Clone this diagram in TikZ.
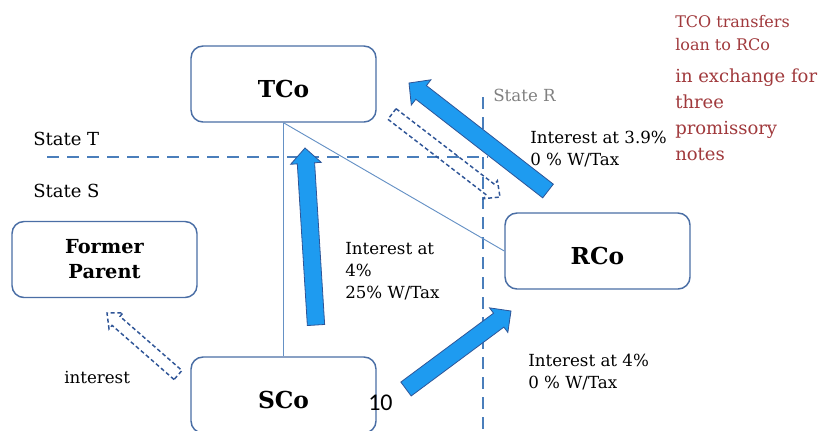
\documentclass[tikz,border=0pt]{standalone}
\usepackage{fontspec}
\setmainfont{DejaVu Serif}
\newfontfamily\pagenumfont{Carlito}
\usetikzlibrary{calc}
\definecolor{boxline}{RGB}{74,110,165}
\definecolor{stateline}{RGB}{74,126,187}
\definecolor{flowfill}{RGB}{30,155,240}
\definecolor{flowline}{RGB}{47,85,151}
\definecolor{notered}{RGB}{160,57,60}
\definecolor{stategray}{RGB}{128,128,128}
% block arrow: [style]{tail}{tip}{half shaft}{half head}{head length}
\newcommand{\blockarrow}[6][]{%
 \coordinate (ba-h) at ($(#3)!#6!(#2)$);
 \draw[#1] ($(#2)!#4!90:(#3)$) -- ($(ba-h)!#4!90:(#3)$) -- ($(ba-h)!#5!90:(#3)$)
  -- (#3) -- ($(ba-h)!#5!-90:(#3)$) -- ($(ba-h)!#4!-90:(#3)$) -- ($(#2)!#4!-90:(#3)$) -- cycle;}
\begin{document}
\begin{tikzpicture}[x=.75pt,y=-.75pt,
                    box/.style={draw=boxline,line width=1.1pt,rounded corners=9pt,fill=white,
                                minimum width=138.75pt,minimum height=57pt,align=center},
                    big/.style={font=\fontsize{17.5}{21}\selectfont\bfseries,text height=20pt,text depth=0pt},
                    statedash/.style={draw=stateline,line width=2.2pt,dash pattern=on 9pt off 6pt},
                    link/.style={draw=stateline!85,line width=.7pt},
                    flow/.style={fill=flowfill,draw=flowline,line width=.6pt},
                    hollow/.style={draw=flowline,line width=1.1pt,dash pattern=on 3pt off 2pt},
                    note/.style={anchor=base west,inner sep=0pt,align=left,font=\fontsize{12.5}{16.5}\selectfont}]
 \useasboundingbox (0,0) rectangle (827,430);
 % borders between states
 \coordinate (tw) at (47,157); \coordinate (te) at (488,157);
 \coordinate (rn) at (483,97); \coordinate (rs) at (483,432);
 \draw[statedash] (tw) -- (te);
 \draw[statedash] (rn) -- (rs);
 % companies
 \node[box,big] (tco) at (283.5,84) {TCo};
 \node[box,big] (sco) at (283.5,395) {SCo};
 \node[box,big] (rco) at (597.5,251) {RCo};
 \node[box,font=\fontsize{14.5}{18.75}\selectfont\bfseries] (parent) at (104.5,259.5) {Former\\Parent};
 \draw[link] (tco.south) -- (sco.north);
 \draw[link] (tco.south) -- (rco.west);
 % payments
 \coordinate (up-t) at (316,325); \coordinate (up-h) at (305,148);
 \coordinate (sr-t) at (406,389); \coordinate (sr-h) at (511,311);
 \coordinate (rt-t) at (548,191); \coordinate (rt-h) at (409,83);
 \coordinate (tr-t) at (392,114); \coordinate (tr-h) at (500,197);
 \coordinate (sp-t) at (178,375); \coordinate (sp-h) at (107,313);
 \blockarrow[flow]{up-t}{up-h}{6.5pt}{11.5pt}{11.5pt}
 \blockarrow[flow]{sr-t}{sr-h}{6.5pt}{11.5pt}{11.5pt}
 \blockarrow[flow]{rt-t}{rt-h}{6.5pt}{12pt}{11.5pt}
 \blockarrow[hollow]{tr-t}{tr-h}{5pt}{8.5pt}{9pt}
 \blockarrow[hollow]{sp-t}{sp-h}{4.5pt}{8pt}{9pt}
 % labels (base = last line)
 \node[note,font=\fontsize{13.5}{16.5}\selectfont] (st) at (33,145) {State T};
 \node[note,font=\fontsize{13.5}{16.5}\selectfont] (ss) at (33,197) {State S};
 \node[note,font=\fontsize{12.5}{16.5}\selectfont,text=stategray] (sr) at (493,101) {State R};
 \node[note] (i-ts) at (345,298) {Interest at\\4\%\\25\% W/Tax};
 \node[note] (i-rt) at (530,165) {Interest at 3.9\%\\0 \% W/Tax};
 \node[note] (i-sr) at (528,388) {Interest at 4\%\\0 \% W/Tax};
 \node[note] (i-sp) at (64,383) {interest};
 \node[note,font=\pagenumfont\fontsize{18}{20}\selectfont] (pg) at (368,410) {10};
 \node[note,text=notered,font=\fontsize{12}{17}\selectfont] (n1) at (675,50) {TCO transfers\\loan to RCo};
 \node[note,text=notered,font=\fontsize{13.5}{19.5}\selectfont] (n2) at (675,160) {in exchange for\\three\\promissory\\notes};
\end{tikzpicture}
\end{document}
